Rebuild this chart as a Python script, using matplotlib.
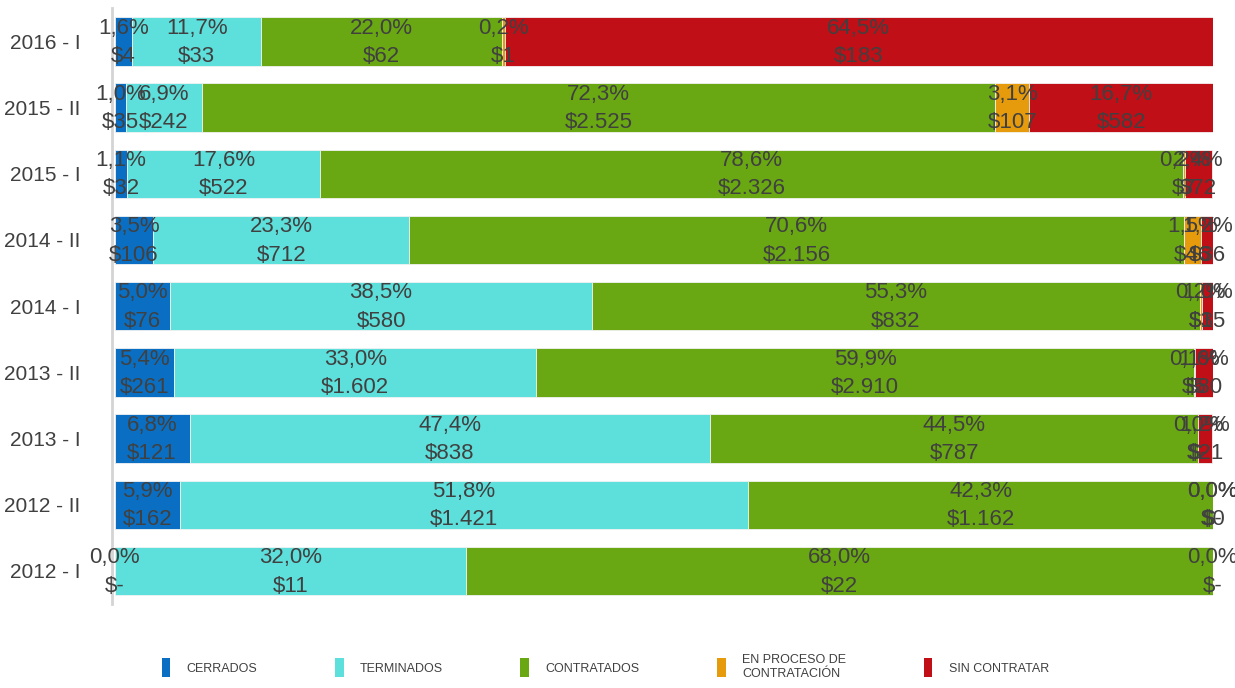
import matplotlib.pyplot as plt
from matplotlib.patches import Patch
import numpy as np

# Periods shown top to bottom.
periods = ["2016 - I", "2015 - II", "2015 - I", "2014 - II", "2014 - I",
           "2013 - II", "2013 - I", "2012 - II", "2012 - I"]
series = ["CERRADOS", "TERMINADOS", "CONTRATADOS", "EN PROCESO DE\nCONTRATACIÓN", "SIN CONTRATAR"]
colors = ["#0a6fc2", "#5de0db", "#69a812", "#e59b0c", "#c00f17"]

cerrados = [1.6, 1.0, 1.1, 3.5, 5.0, 5.4, 6.8, 5.9, 0.0]
terminados = [11.7, 6.9, 17.6, 23.3, 38.5, 33.0, 47.4, 51.8, 32.0]
contratados = [22.0, 72.3, 78.6, 70.6, 55.3, 59.9, 44.5, 42.3, 68.0]
en_proceso = [0.2, 3.1, 0.2, 1.5, 0.2, 0.1, 0.0, 0.0, 0.0]
sin_contratar = [64.5, 16.7, 2.4, 1.2, 1.0, 1.6, 1.2, 0.0, None]

cerrados_m = ["$4", "$35", "$32", "$106", "$76", "$261", "$121", "$162", "$-"]
terminados_m = ["$33", "$242", "$522", "$712", "$580", "$1.602", "$838", "$1.421", "$11"]
contratados_m = ["$62", "$2.525", "$2.326", "$2.156", "$832", "$2.910", "$787", "$1.162", "$22"]
en_proceso_m = ["$1", "$107", "$7", "$46", "$3", "$5", "$-", "$-", "$-"]
sin_contratar_m = ["$183", "$582", "$72", "$36", "$15", "$80", "$21", "$0", None]

pcts = [cerrados, terminados, contratados, en_proceso, sin_contratar]
money = [cerrados_m, terminados_m, contratados_m, en_proceso_m, sin_contratar_m]

plt.rcParams["font.family"] = ["Liberation Sans", "DejaVu Sans"]

fig = plt.figure(figsize=(12.35, 6.88), dpi=100)
ax = fig.add_axes([0.093, 0.122, 0.889, 0.866])

y = np.arange(len(periods))
left = np.zeros(len(periods))
txt_color = "#404040"
for vals, labs, col in zip(pcts, money, colors):
    widths = np.array([v if v is not None else 0.0 for v in vals])
    ax.barh(y, widths, left=left, height=0.73, color=col, edgecolor="#f2f2f2", linewidth=0.6)
    for i, (v, m) in enumerate(zip(vals, labs)):
        if v is None:
            continue
        cx = left[i] + widths[i] / 2
        pct = f"{v:.1f}%".replace(".", ",")
        ax.text(cx, y[i] - 0.2, pct, ha="center", va="center", fontsize=16, color=txt_color)
        ax.text(cx, y[i] + 0.23, m, ha="center", va="center", fontsize=16, color=txt_color)
    left += widths

ax.set_xlim(0, 100)
ax.set_ylim(len(periods) - 0.5, -0.5)
ax.set_yticks(y)
ax.set_yticklabels(periods)
ax.tick_params(axis="y", length=0, pad=23, labelsize=15, labelcolor=txt_color)
ax.set_xticks([])
for s in ["top", "right", "bottom"]:
    ax.spines[s].set_visible(False)
ax.spines["left"].set_color("#d4d4d4")
ax.spines["left"].set_linewidth(2)
ax.spines["left"].set_position(("outward", 2))

handles = [Patch(facecolor=c, edgecolor="none") for c in colors]
fig.legend(handles, series, loc="lower center", bbox_to_anchor=(0.49, -0.005), ncol=5,
           frameon=False, fontsize=9, handlelength=0.7, handleheight=2.0,
           handletextpad=1.3, columnspacing=6.2, labelcolor=txt_color)

fig.savefig("out.png", dpi=100)
